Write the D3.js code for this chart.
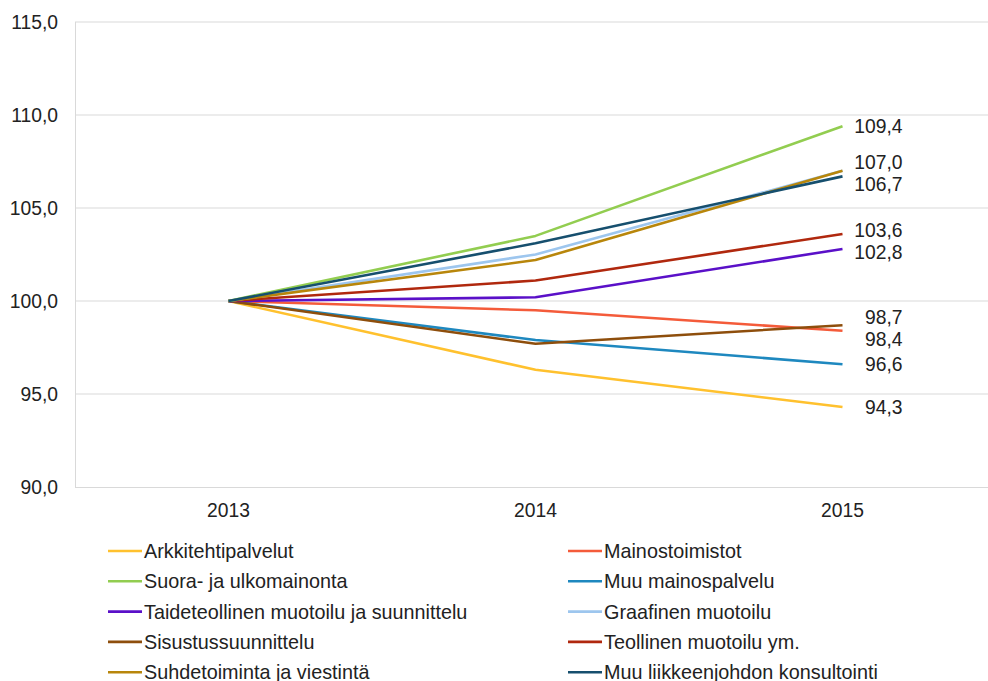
<!DOCTYPE html>
<html><head><meta charset="utf-8">
<script src="https://cdn.jsdelivr.net/npm/d3@7"></script>
<style>body{margin:0;background:#fff}svg{display:block}text{font-family:"Liberation Sans",Arial,sans-serif;fill:#222}</style>
</head><body><svg id="c" width="988" height="681"></svg>
<script>
const years = ["2013","2014","2015"];
const seriesNames = ["Arkkitehtipalvelut","Mainostoimistot","Suora- ja ulkomainonta","Muu mainospalvelu","Taideteollinen muotoilu ja suunnittelu","Graafinen muotoilu","Sisustussuunnittelu","Teollinen muotoilu ym.","Suhdetoiminta ja viestintä","Muu liikkeenjohdon konsultointi"];
const arkkitehti = [100, 96.3, 94.3];
const mainostoimistot = [100, 99.5, 98.4];
const suora = [100, 103.5, 109.4];
const muuMainos = [100, 97.9, 96.6];
const taide = [100, 100.2, 102.8];
const graafinen = [100, 102.5, 107.0];
const sisustus = [100, 97.7, 98.7];
const teollinen = [100, 101.1, 103.6];
const suhde = [100, 102.2, 107.0];
const muuLiikk = [100, 103.1, 106.7];
const seriesValues = [arkkitehti, mainostoimistot, suora, muuMainos, taide, graafinen, sisustus, teollinen, suhde, muuLiikk];
const colors = ["#FFC12E","#F45B3A","#92CD50","#1E88BF","#5A10C8","#9DC6EE","#8E4E0C","#B0280E","#B8860B","#164F6E"];
const showLabel = [true,true,true,true,true,false,true,true,true,true];
const yTicks = [90,95,100,105,110,115];

const svg = d3.select("#c");
const x = d3.scaleBand().domain(years).range([75, 996]);
const y = d3.scaleLinear().domain([90,115]).range([487, 22]);
const fmt = v => d3.format(".1f")(v).replace(".", ",");
const FS = "19.3px";

svg.append("g").selectAll("line").data(yTicks.slice(1)).join("line")
  .attr("x1", 75).attr("x2", 988).attr("y1", d=>y(d)).attr("y2", d=>y(d))
  .attr("stroke", "#d9d9d9").attr("stroke-width", 1);
svg.append("line").attr("x1",75.5).attr("x2",75.5).attr("y1",y(115)).attr("y2",y(90)).attr("stroke","#d9d9d9");
svg.append("line").attr("x1",75).attr("x2",988).attr("y1",y(90)+0.5).attr("y2",y(90)+0.5).attr("stroke","#d9d9d9");

const yAxis = d3.axisLeft(y).tickValues(yTicks).tickFormat(fmt).tickSize(0).tickPadding(17);
const ga = svg.append("g").attr("transform","translate(75,0)").call(yAxis);
ga.select(".domain").remove();
ga.selectAll("text").style("font-size",FS).attr("fill","#222").style("font-family","Liberation Sans, Arial, sans-serif");
const xAxis = d3.axisBottom(x).tickSize(0).tickPadding(16);
const gx = svg.append("g").attr("transform",`translate(0,${y(90)})`).call(xAxis);
gx.select(".domain").remove();
gx.selectAll("text").style("font-size",FS).attr("fill","#222").style("font-family","Liberation Sans, Arial, sans-serif");

const line = d3.line().x((d,i)=>x(years[i])+x.bandwidth()/2).y(d=>y(d));
const order = [0,1,3,6,4,7,5,8,2,9];
svg.append("g").selectAll("path").data(order).join("path")
  .attr("d", i=>line(seriesValues[i])).attr("fill","none")
  .attr("stroke", i=>colors[i]).attr("stroke-width", 2.6).attr("stroke-linejoin","round");

const last = years.length-1;
let labs = seriesValues.map((s,i)=>({v:s[last], y:y(s[last]), i})).filter(d=>showLabel[d.i]).sort((a,b)=>a.y-b.y);
const minGap = 22;
for (let k=0;k<3;k++){
  for (let j=1;j<labs.length;j++){
    const gap = labs[j].y - labs[j-1].y;
    if (gap < minGap){ const sh=(minGap-gap)/2; labs[j].y+=sh; labs[j-1].y-=sh; }
  }
}
svg.append("g").selectAll("text").data(labs).join("text")
  .attr("x", x(years[last]) + x.bandwidth()/2 + 60).attr("y", d=>d.y).attr("dy","0.35em")
  .attr("text-anchor","end").style("font-size",FS).text(d=>fmt(d.v));

const leg = svg.append("g");
seriesNames.forEach((n,i)=>{
  const col = i%2, row = Math.floor(i/2);
  const lx = col===0 ? 108 : 568, ly = 551 + row*30.3;
  leg.append("line").attr("x1",lx).attr("x2",lx+34).attr("y1",ly).attr("y2",ly).attr("stroke",colors[i]).attr("stroke-width",2.6);
  leg.append("text").attr("x",lx+36).attr("y",ly).attr("dy","0.35em").style("font-size","19.8px").text(n);
});
</script></body></html>
